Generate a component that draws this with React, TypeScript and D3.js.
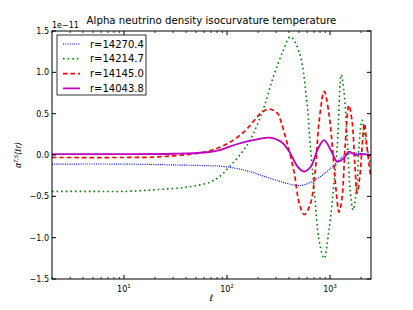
import { useEffect, useRef } from 'react'
import * as d3 from 'd3'

const TITLE = 'Alpha neutrino density isocurvature temperature'
const LABELS = ['r=14270.4', 'r=14214.7', 'r=14145.0', 'r=14043.8']
const COLORS = ['#0000ff', '#008000', '#ff0000', '#bf00bf']
const Y_TICKS = [-1.5, -1.0, -0.5, 0.0, 0.5, 1.0, 1.5]
const X_TICKS = [10, 100, 1000]

// values in units of 1e-11
const ELL_BLUE = [2, 10, 30, 68, 85, 133, 166, 259, 374, 502, 676, 977, 1416, 1901, 2500]
const BLUE = [-0.11, -0.11, -0.12, -0.13, -0.135, -0.17, -0.2, -0.28, -0.34, -0.37, -0.32, -0.18, 0.0, 0.02, 0.0]

const ELL_GREEN = [2, 5, 10, 20, 40, 68, 85, 106, 133, 166, 223, 279, 348, 412, 501, 591, 640, 702, 783, 875, 977, 1092, 1175, 1285, 1365, 1469, 1567, 1675, 1832, 1901, 2048, 2218, 2480]
const GREEN = [-0.44, -0.44, -0.44, -0.42, -0.39, -0.33, -0.26, -0.14, 0.0, 0.17, 0.54, 0.93, 1.25, 1.43, 1.25, 0.69, 0.15, -0.42, -1.03, -1.25, -0.91, -0.34, 0.1, 0.97, 0.77, 0.2, -0.42, -0.665, -0.34, 0.06, 0.42, 0.18, -0.12]

const ELL_RED = [2, 10, 20, 30, 45, 63, 88, 115, 149, 179, 215, 259, 311, 335, 388, 450, 502, 562, 642, 718, 783, 878, 977, 1070, 1150, 1222, 1312, 1400, 1524, 1640, 1740, 1833, 1950, 2158, 2280, 2480]
const RED = [-0.03, -0.03, -0.025, -0.01, 0.01, 0.04, 0.1, 0.18, 0.29, 0.4, 0.51, 0.556, 0.5, 0.4, 0.12, -0.22, -0.58, -0.72, -0.6, -0.2, 0.4, 0.77, 0.5, 0.0, -0.45, -0.69, -0.5, 0.1, 0.6, 0.4, -0.1, -0.46, -0.25, 0.38, 0.1, -0.26]

const ELL_MAGENTA = [2, 10, 30, 60, 85, 124, 179, 259, 335, 403, 484, 562, 652, 755, 875, 1016, 1175, 1365, 1524, 1766, 2000, 2500]
const MAGENTA = [0.01, 0.01, 0.015, 0.03, 0.06, 0.13, 0.18, 0.21, 0.16, 0.04, -0.14, -0.2, -0.14, 0.06, 0.18, 0.06, -0.08, -0.04, 0.04, 0.0, 0.01, 0.0]

const SERIES = [
  { ell: ELL_BLUE, v: BLUE, dash: '1,1.2', w: 1.2 },
  { ell: ELL_GREEN, v: GREEN, dash: '1.6,3', w: 1.6 },
  { ell: ELL_RED, v: RED, dash: '4.5,3', w: 1.7 },
  { ell: ELL_MAGENTA, v: MAGENTA, dash: null, w: 1.8 },
]

export default function App() {
  const ref = useRef<SVGSVGElement>(null)

  useEffect(() => {
    const svg = d3.select(ref.current)
    svg.selectAll('*').remove()
    const font = 'DejaVu Sans'
    const L = 52, R = 371, T = 31, B = 279

    const x = d3.scaleLog().domain([2, 2500]).range([L, R])
    const y = d3.scaleLinear().domain([-1.5, 1.5]).range([B, T])

    svg.append('rect').attr('width', 413).attr('height', 310).attr('fill', '#fff')

    const clip = svg.append('clipPath').attr('id', 'plotclip')
    clip.append('rect').attr('x', L).attr('y', T).attr('width', R - L).attr('height', B - T)

    const line = d3.line<[number, number]>()
      .x(d => x(d[0]))
      .y(d => y(d[1]))
      .curve(d3.curveCatmullRom.alpha(0.5))

    const plot = svg.append('g').attr('clip-path', 'url(#plotclip)')
    SERIES.forEach((s, i) => {
      const pts = s.ell.map((e, k) => [e, s.v[k]] as [number, number])
      plot.append('path')
        .attr('d', line(pts))
        .attr('fill', 'none')
        .attr('stroke', COLORS[i])
        .attr('stroke-width', s.w)
        .attr('stroke-dasharray', s.dash)
    })

    // frame
    svg.append('rect').attr('x', L).attr('y', T).attr('width', R - L).attr('height', B - T)
      .attr('fill', 'none').attr('stroke', '#000').attr('stroke-width', 1)

    // y ticks
    Y_TICKS.forEach(t => {
      const py = y(t)
      svg.append('line').attr('x1', L).attr('x2', L + 4).attr('y1', py).attr('y2', py).attr('stroke', '#000')
      svg.append('line').attr('x1', R).attr('x2', R - 4).attr('y1', py).attr('y2', py).attr('stroke', '#000')
      svg.append('text')
        .attr('x', L - 3).attr('y', py + 3)
        .attr('text-anchor', 'end')
        .attr('font-family', font).attr('font-size', 8)
        .text(d3.format('.1f')(t).replace('-', '\u2212'))
    })

    // x minor ticks
    const minors: number[] = []
    for (let dec = 1; dec <= 1000; dec *= 10) {
      for (let m = 2; m <= 9; m++) {
        const v = m * dec
        if (v >= 2 && v <= 2500) minors.push(v)
      }
    }
    minors.forEach(v => {
      const px = x(v)
      svg.append('line').attr('x1', px).attr('x2', px).attr('y1', B).attr('y2', B - 2).attr('stroke', '#000').attr('stroke-width', 0.8)
      svg.append('line').attr('x1', px).attr('x2', px).attr('y1', T).attr('y2', T + 2).attr('stroke', '#000').attr('stroke-width', 0.8)
    })

    X_TICKS.forEach(v => {
      const px = x(v)
      svg.append('line').attr('x1', px).attr('x2', px).attr('y1', B).attr('y2', B - 4).attr('stroke', '#000')
      svg.append('line').attr('x1', px).attr('x2', px).attr('y1', T).attr('y2', T + 4).attr('stroke', '#000')
      const tx = svg.append('text')
        .attr('x', px).attr('y', B + 13)
        .attr('text-anchor', 'middle')
        .attr('font-family', font).attr('font-size', 8)
      tx.append('tspan').text('10')
      tx.append('tspan').attr('dy', -4).attr('font-size', 5.6).text(String(Math.round(Math.log10(v))))
    })

    // offset text
    svg.append('text').attr('x', L).attr('y', T - 3)
      .attr('font-family', font).attr('font-size', 8).text('1e\u221211')

    // title
    svg.append('text').attr('x', (L + R) / 2).attr('y', T - 7)
      .attr('text-anchor', 'middle')
      .attr('font-family', font).attr('font-size', 10.2).text(TITLE)

    // x label
    svg.append('text').attr('x', (L + R) / 2).attr('y', 301)
      .attr('text-anchor', 'middle')
      .attr('font-family', font).attr('font-style', 'italic').attr('font-size', 9).text('\u2113')

    // y label
    const yl = svg.append('text')
      .attr('transform', `translate(21,${(T + B) / 2}) rotate(-90)`)
      .attr('text-anchor', 'middle')
      .attr('font-family', font).attr('font-size', 8).attr('font-style', 'italic')
    yl.append('tspan').text('\u03b1')
    yl.append('tspan').attr('dy', -3).attr('font-size', 5.5).text('T,S')
    yl.append('tspan').attr('dy', 3).text('(\u2113r)')

    // legend
    const lg = svg.append('g')
    lg.append('rect').attr('x', 57).attr('y', 35).attr('width', 89).attr('height', 60)
      .attr('fill', '#fff').attr('stroke', '#000').attr('stroke-width', 0.8)
    LABELS.forEach((lab, i) => {
      const cy = 44 + i * 14.8
      const s = SERIES[i]
      lg.append('line').attr('x1', 63).attr('x2', 80).attr('y1', cy).attr('y2', cy)
        .attr('stroke', COLORS[i]).attr('stroke-width', s.w).attr('stroke-dasharray', s.dash)
      lg.append('text').attr('x', 90).attr('y', cy + 3.6)
        .attr('font-family', font).attr('font-size', 10).text(lab)
    })
  }, [])

  return (
    <svg ref={ref} width={413} height={310}
      style={{ position: 'fixed', left: 0, top: 0, display: 'block' }} />
  )
}
